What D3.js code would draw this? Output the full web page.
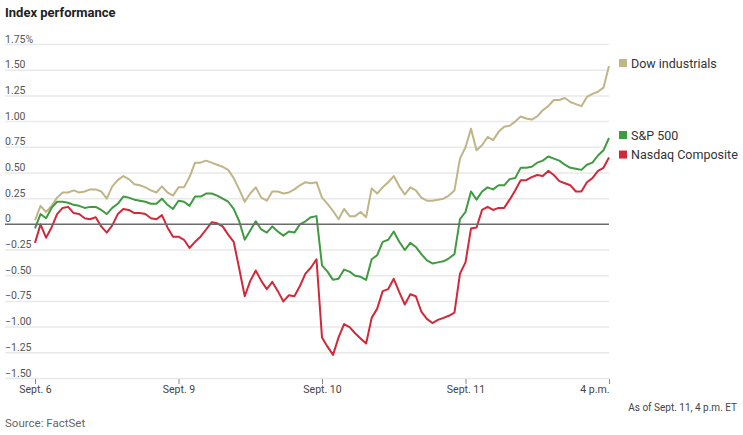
<!DOCTYPE html>
<html>
<head>
<meta charset="utf-8">
<script src="https://cdn.jsdelivr.net/npm/d3@7"></script>
<style>
  body { margin: 0; background: #fff; }
  svg { display: block; font-family: Roboto, "Noto Sans", sans-serif; }
</style>
</head>
<body>
<svg id="chart" width="743" height="435"></svg>
<script>
// 15-minute steps, 26 per session, Sept. 6 open to Sept. 11 close
const dayLabels = ["Sept. 6", "Sept. 9", "Sept. 10", "Sept. 11", "4 p.m."];
const dayTicks = [0, 26, 52, 78, 104];
const yTicks = [1.75, 1.5, 1.25, 1, 0.75, 0.5, 0.25, 0, -0.25, -0.5, -0.75, -1, -1.25, -1.5];

const dow = [
  0.04, 0.18, 0.12, 0.18, 0.26, 0.31, 0.31, 0.33, 0.31, 0.32, 0.34, 0.34, 0.32, 0.25, 0.37, 0.43, 0.47, 0.44, 0.39, 0.38, 0.36, 0.33, 0.31, 0.37, 0.31, 0.28,
  0.36, 0.36, 0.46, 0.60, 0.60, 0.62, 0.60, 0.58, 0.56, 0.53, 0.45, 0.34, 0.22, 0.30, 0.36, 0.26, 0.23, 0.32, 0.32, 0.30, 0.31, 0.34, 0.38, 0.41, 0.40, 0.41,
  0.26, 0.20, 0.13, 0.05, 0.15, 0.08, 0.08, 0.12, 0.07, 0.35, 0.30, 0.36, 0.41, 0.47, 0.37, 0.29, 0.36, 0.33, 0.26, 0.23, 0.23, 0.24, 0.25, 0.28, 0.33, 0.64,
  0.75, 0.93, 0.72, 0.77, 0.85, 0.82, 0.90, 0.95, 0.96, 1.00, 1.05, 1.03, 1.02, 1.05, 1.11, 1.15, 1.21, 1.21, 1.23, 1.19, 1.17, 1.15, 1.24, 1.27, 1.29, 1.33,
  1.54
];
const sp500 = [
  -0.04, 0.10, 0.06, 0.16, 0.22, 0.22, 0.21, 0.19, 0.18, 0.16, 0.17, 0.17, 0.14, 0.10, 0.16, 0.20, 0.27, 0.26, 0.24, 0.23, 0.22, 0.20, 0.20, 0.25, 0.19, 0.15,
  0.23, 0.22, 0.18, 0.27, 0.27, 0.30, 0.30, 0.28, 0.25, 0.22, 0.15, 0.03, -0.15, -0.06, 0.03, -0.05, -0.08, -0.02, -0.07, -0.11, -0.07, -0.08, 0.00, 0.03, 0.07, 0.08,
  -0.40, -0.46, -0.54, -0.53, -0.44, -0.46, -0.50, -0.51, -0.54, -0.34, -0.30, -0.17, -0.15, -0.07, -0.17, -0.25, -0.18, -0.22, -0.29, -0.35, -0.38, -0.37, -0.36, -0.33, -0.29, 0.05,
  0.12, 0.32, 0.24, 0.32, 0.36, 0.34, 0.38, 0.38, 0.44, 0.45, 0.55, 0.55, 0.56, 0.60, 0.62, 0.66, 0.64, 0.62, 0.58, 0.55, 0.54, 0.53, 0.58, 0.60, 0.67, 0.72,
  0.84
];
const nasdaq = [
  -0.18, 0.00, -0.13, -0.03, 0.10, 0.16, 0.17, 0.11, 0.10, 0.06, 0.05, 0.07, -0.02, -0.08, -0.01, 0.10, 0.15, 0.14, 0.11, 0.11, 0.10, 0.06, 0.05, 0.09, -0.03, -0.12,
  -0.12, -0.15, -0.23, -0.17, -0.12, -0.05, 0.02, 0.01, -0.02, -0.10, -0.17, -0.43, -0.70, -0.55, -0.45, -0.55, -0.63, -0.56, -0.65, -0.75, -0.69, -0.70, -0.60, -0.48, -0.42, -0.34,
  -1.10, -1.19, -1.27, -1.10, -0.97, -1.00, -1.06, -1.11, -1.16, -0.91, -0.82, -0.65, -0.63, -0.53, -0.66, -0.78, -0.68, -0.70, -0.85, -0.92, -0.96, -0.93, -0.91, -0.89, -0.86, -0.48,
  -0.37, -0.04, -0.03, 0.14, 0.17, 0.14, 0.16, 0.16, 0.24, 0.33, 0.43, 0.43, 0.46, 0.48, 0.47, 0.52, 0.48, 0.42, 0.40, 0.38, 0.32, 0.32, 0.41, 0.45, 0.52, 0.55,
  0.65
];

const series = [
  { name: "Dow industrials", values: dow, color: "#c1b486" },
  { name: "S&P 500", values: sp500, color: "#3f9a40" },
  { name: "Nasdaq Composite", values: nasdaq, color: "#d1293a" }
];

const svg = d3.select("#chart");
const left = 5, plotLeft = 35, right = 609;

const x = d3.scaleLinear().domain([0, 104]).range([plotLeft, right]);
const y = d3.scaleLinear().domain([-1.5, 1.75]).range([378.5, 44.5]);

svg.append("text")
  .attr("x", left)
  .attr("y", 17)
  .attr("font-size", 13)
  .attr("font-weight", "bold")
  .attr("fill", "#222")
  .text("Index performance");

// grid + y labels
const grid = svg.append("g");
grid.selectAll("line")
  .data(yTicks.filter(d => d !== 0))
  .enter()
  .append("line")
  .attr("x1", left)
  .attr("x2", right)
  .attr("y1", d => y(d))
  .attr("y2", d => y(d))
  .attr("stroke", "#e9e9e9")
  .attr("stroke-width", 1.5);

grid.selectAll("text")
  .data(yTicks)
  .enter()
  .append("text")
  .attr("x", left)
  .attr("y", d => y(d) - 2)
  .attr("font-size", 10.5)
  .attr("fill", "#555")
  .text(d => d === 0 ? "0" : d3.format(".2f")(d) + (d === 1.75 ? "%" : ""));

// x axis
const xAxis = d3.axisBottom(x)
  .tickValues(dayTicks)
  .tickFormat((d, i) => dayLabels[i])
  .tickSize(5)
  .tickSizeOuter(0);

const gx = svg.append("g")
  .attr("transform", `translate(0, ${y(-1.5) + 0.5})`)
  .call(xAxis);
gx.select(".domain").remove();
gx.selectAll(".tick line").attr("stroke", "#888");
gx.selectAll(".tick text")
  .attr("font-family", "Roboto, sans-serif")
  .attr("font-size", 10.5)
  .attr("fill", "#444")
  .attr("dy", "0.6em")
  .attr("text-anchor", (d, i) => i === dayTicks.length - 1 ? "end" : "middle");

// lines
const line = d3.line()
  .x((d, i) => x(i))
  .y(d => y(d));

svg.selectAll(".series")
  .data(series)
  .enter()
  .append("path")
  .attr("class", "series")
  .attr("d", d => line(d.values))
  .attr("fill", "none")
  .attr("stroke", d => d.color)
  .attr("stroke-width", 2)
  .attr("stroke-linejoin", "round");

// zero line
svg.append("line")
  .attr("x1", left)
  .attr("x2", right)
  .attr("y1", y(0))
  .attr("y2", y(0))
  .attr("stroke", "#6b6b6b")
  .attr("stroke-width", 1.5);

// legend, next to each series' last value
const legend = svg.append("g");
series.forEach(s => {
  const ly = y(s.values[s.values.length - 1]) - 3;
  legend.append("rect")
    .attr("x", 619)
    .attr("y", ly - 4)
    .attr("width", 8)
    .attr("height", 8)
    .attr("fill", s.color);
  legend.append("text")
    .attr("x", 631)
    .attr("y", ly)
    .attr("dy", "0.36em")
    .attr("font-size", 12.5)
    .attr("fill", "#333")
    .text(s.name);
});

svg.append("text")
  .attr("x", 737)
  .attr("y", 411)
  .attr("text-anchor", "end")
  .attr("font-size", 10)
  .attr("fill", "#444")
  .text("As of Sept. 11, 4 p.m. ET");

svg.append("text")
  .attr("x", left)
  .attr("y", 427)
  .attr("font-size", 11.5)
  .attr("fill", "#666")
  .text("Source: FactSet");
</script>
</body>
</html>
